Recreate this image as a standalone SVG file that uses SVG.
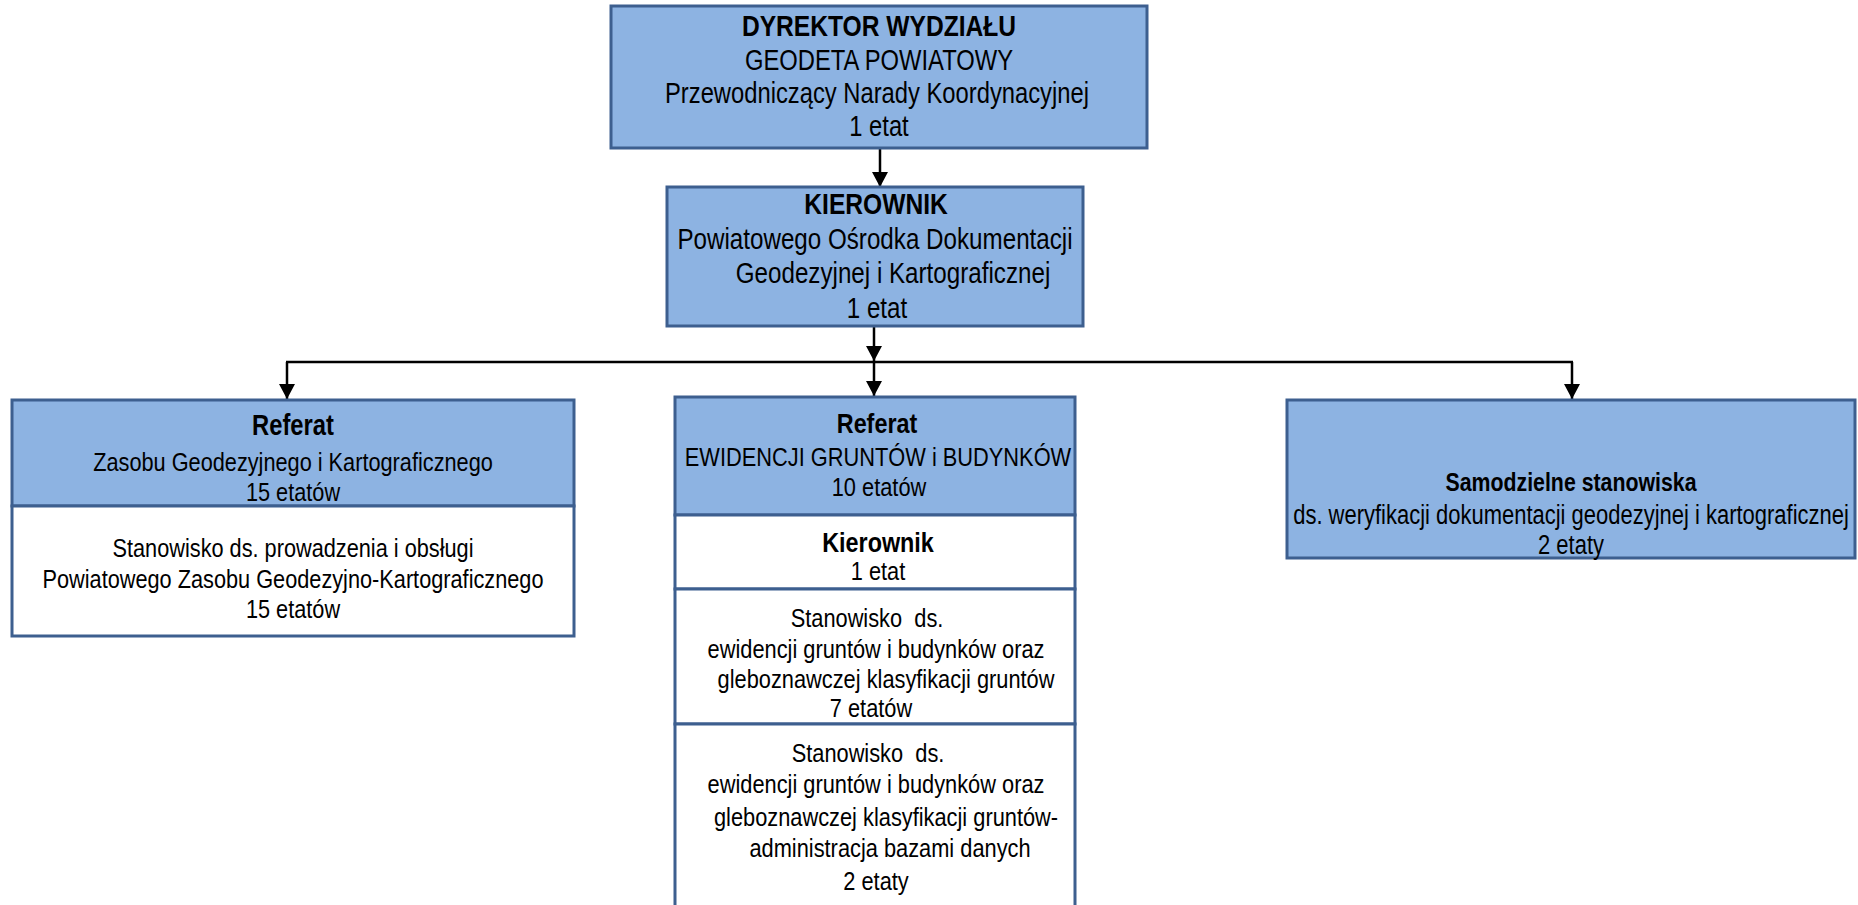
<svg xmlns="http://www.w3.org/2000/svg" width="1858" height="905" viewBox="0 0 1858 905">
<defs>
<style>
.blue{fill:#8db3e2;stroke:#3d5f8f;stroke-width:3}
.white{fill:#ffffff;stroke:#3d5f8f;stroke-width:3}
.t{font-family:"Liberation Sans",Arial,sans-serif;fill:#000;text-anchor:middle}
.b{font-weight:bold}
.conn{stroke:#000;stroke-width:2.5;fill:none}
</style>
<marker id="ad" markerUnits="userSpaceOnUse" markerWidth="16" markerHeight="16" refX="15" refY="8" orient="auto" viewBox="0 0 16 16">
<path d="M0,0 L15,8 L0,16 Z" fill="#000"/>
</marker>
</defs>
<g id="connectors">
<line class="conn" x1="880" y1="149" x2="880" y2="187" marker-end="url(#ad)"/>
<line class="conn" x1="874" y1="327" x2="874" y2="361" marker-end="url(#ad)"/>
<line class="conn" x1="286" y1="362" x2="1573" y2="362"/>
<line class="conn" x1="287" y1="362" x2="287" y2="399" marker-end="url(#ad)"/>
<line class="conn" x1="874" y1="362" x2="874" y2="396" marker-end="url(#ad)"/>
<line class="conn" x1="1572" y1="362" x2="1572" y2="399" marker-end="url(#ad)"/>
</g>
<g id="dyrektor">
<rect class="blue" x="611" y="6" width="536" height="142"/>
<text class="t b" x="0" y="36" font-size="30" transform="translate(879 0) scale(0.82 1)">DYREKTOR WYDZIAŁU</text>
<text class="t" x="0" y="70" font-size="29" transform="translate(879 0) scale(0.82 1)">GEODETA POWIATOWY</text>
<text class="t" x="0" y="103" font-size="29" transform="translate(877 0) scale(0.82 1)">Przewodniczący Narady Koordynacyjnej</text>
<text class="t" x="0" y="136" font-size="29" transform="translate(879 0) scale(0.82 1)">1 etat</text>
</g>
<g id="kierownik-podgik">
<rect class="blue" x="667" y="187" width="416" height="139"/>
<text class="t b" x="0" y="214" font-size="30" transform="translate(876 0) scale(0.82 1)">KIEROWNIK</text>
<text class="t" x="0" y="249" font-size="29.5" transform="translate(875 0) scale(0.82 1)">Powiatowego Ośrodka Dokumentacji</text>
<text class="t" x="0" y="283" font-size="29.5" transform="translate(893 0) scale(0.82 1)">Geodezyjnej i Kartograficznej</text>
<text class="t" x="0" y="318" font-size="29.5" transform="translate(877 0) scale(0.82 1)">1 etat</text>
</g>
<g id="referat-zasobu">
<rect class="blue" x="12" y="400" width="562" height="106"/>
<rect class="white" x="12" y="506" width="562" height="130"/>
<text class="t b" x="0" y="435" font-size="29" transform="translate(293 0) scale(0.82 1)">Referat</text>
<text class="t" x="0" y="471" font-size="26.5" transform="translate(293 0) scale(0.82 1)">Zasobu Geodezyjnego i Kartograficznego</text>
<text class="t" x="0" y="501" font-size="26.5" transform="translate(293 0) scale(0.82 1)">15 etatów</text>
<text class="t" x="0" y="557" font-size="26.5" transform="translate(293 0) scale(0.82 1)">Stanowisko ds. prowadzenia i obsługi</text>
<text class="t" x="0" y="588" font-size="26.5" transform="translate(293 0) scale(0.82 1)">Powiatowego Zasobu Geodezyjno-Kartograficznego</text>
<text class="t" x="0" y="618" font-size="26.5" transform="translate(293 0) scale(0.82 1)">15 etatów</text>
</g>
<g id="referat-ewidencji">
<rect class="blue" x="675" y="397" width="400" height="118"/>
<rect class="white" x="675" y="515" width="400" height="74"/>
<rect class="white" x="675" y="589" width="400" height="135"/>
<rect class="white" x="675" y="724" width="400" height="200"/>
<text class="t b" x="0" y="433" font-size="28.5" transform="translate(877 0) scale(0.82 1)">Referat</text>
<text class="t" x="0" y="466" font-size="26.6" transform="translate(878 0) scale(0.82 1)">EWIDENCJI GRUNTÓW i BUDYNKÓW</text>
<text class="t" x="0" y="496" font-size="26.6" transform="translate(879 0) scale(0.82 1)">10 etatów</text>
<text class="t b" x="0" y="552" font-size="28.5" transform="translate(878 0) scale(0.82 1)">Kierownik</text>
<text class="t" x="0" y="580" font-size="26.6" transform="translate(878 0) scale(0.82 1)">1 etat</text>
<text class="t" x="0" y="627" font-size="26.6" transform="translate(867 0) scale(0.82 1)">Stanowisko&#160; ds.</text>
<text class="t" x="0" y="658" font-size="26.6" transform="translate(876 0) scale(0.82 1)">ewidencji gruntów i budynków oraz</text>
<text class="t" x="0" y="688" font-size="26.6" transform="translate(886 0) scale(0.82 1)">gleboznawczej klasyfikacji gruntów</text>
<text class="t" x="0" y="717" font-size="26.6" transform="translate(871 0) scale(0.82 1)">7 etatów</text>
<text class="t" x="0" y="762" font-size="26.6" transform="translate(868 0) scale(0.82 1)">Stanowisko&#160; ds.</text>
<text class="t" x="0" y="793" font-size="26.6" transform="translate(876 0) scale(0.82 1)">ewidencji gruntów i budynków oraz</text>
<text class="t" x="0" y="826" font-size="26.6" transform="translate(886 0) scale(0.82 1)">gleboznawczej klasyfikacji gruntów-</text>
<text class="t" x="0" y="857" font-size="26.6" transform="translate(890 0) scale(0.82 1)">administracja bazami danych</text>
<text class="t" x="0" y="890" font-size="26.6" transform="translate(876 0) scale(0.82 1)">2 etaty</text>
</g>
<g id="samodzielne">
<rect class="blue" x="1287" y="400" width="568" height="158"/>
<text class="t b" x="0" y="491" font-size="26" transform="translate(1571 0) scale(0.82 1)">Samodzielne stanowiska</text>
<text class="t" x="0" y="524" font-size="26.8" transform="translate(1571 0) scale(0.82 1)">ds. weryfikacji dokumentacji geodezyjnej i kartograficznej</text>
<text class="t" x="0" y="554" font-size="26.8" transform="translate(1571 0) scale(0.82 1)">2 etaty</text>
</g>
</svg>
